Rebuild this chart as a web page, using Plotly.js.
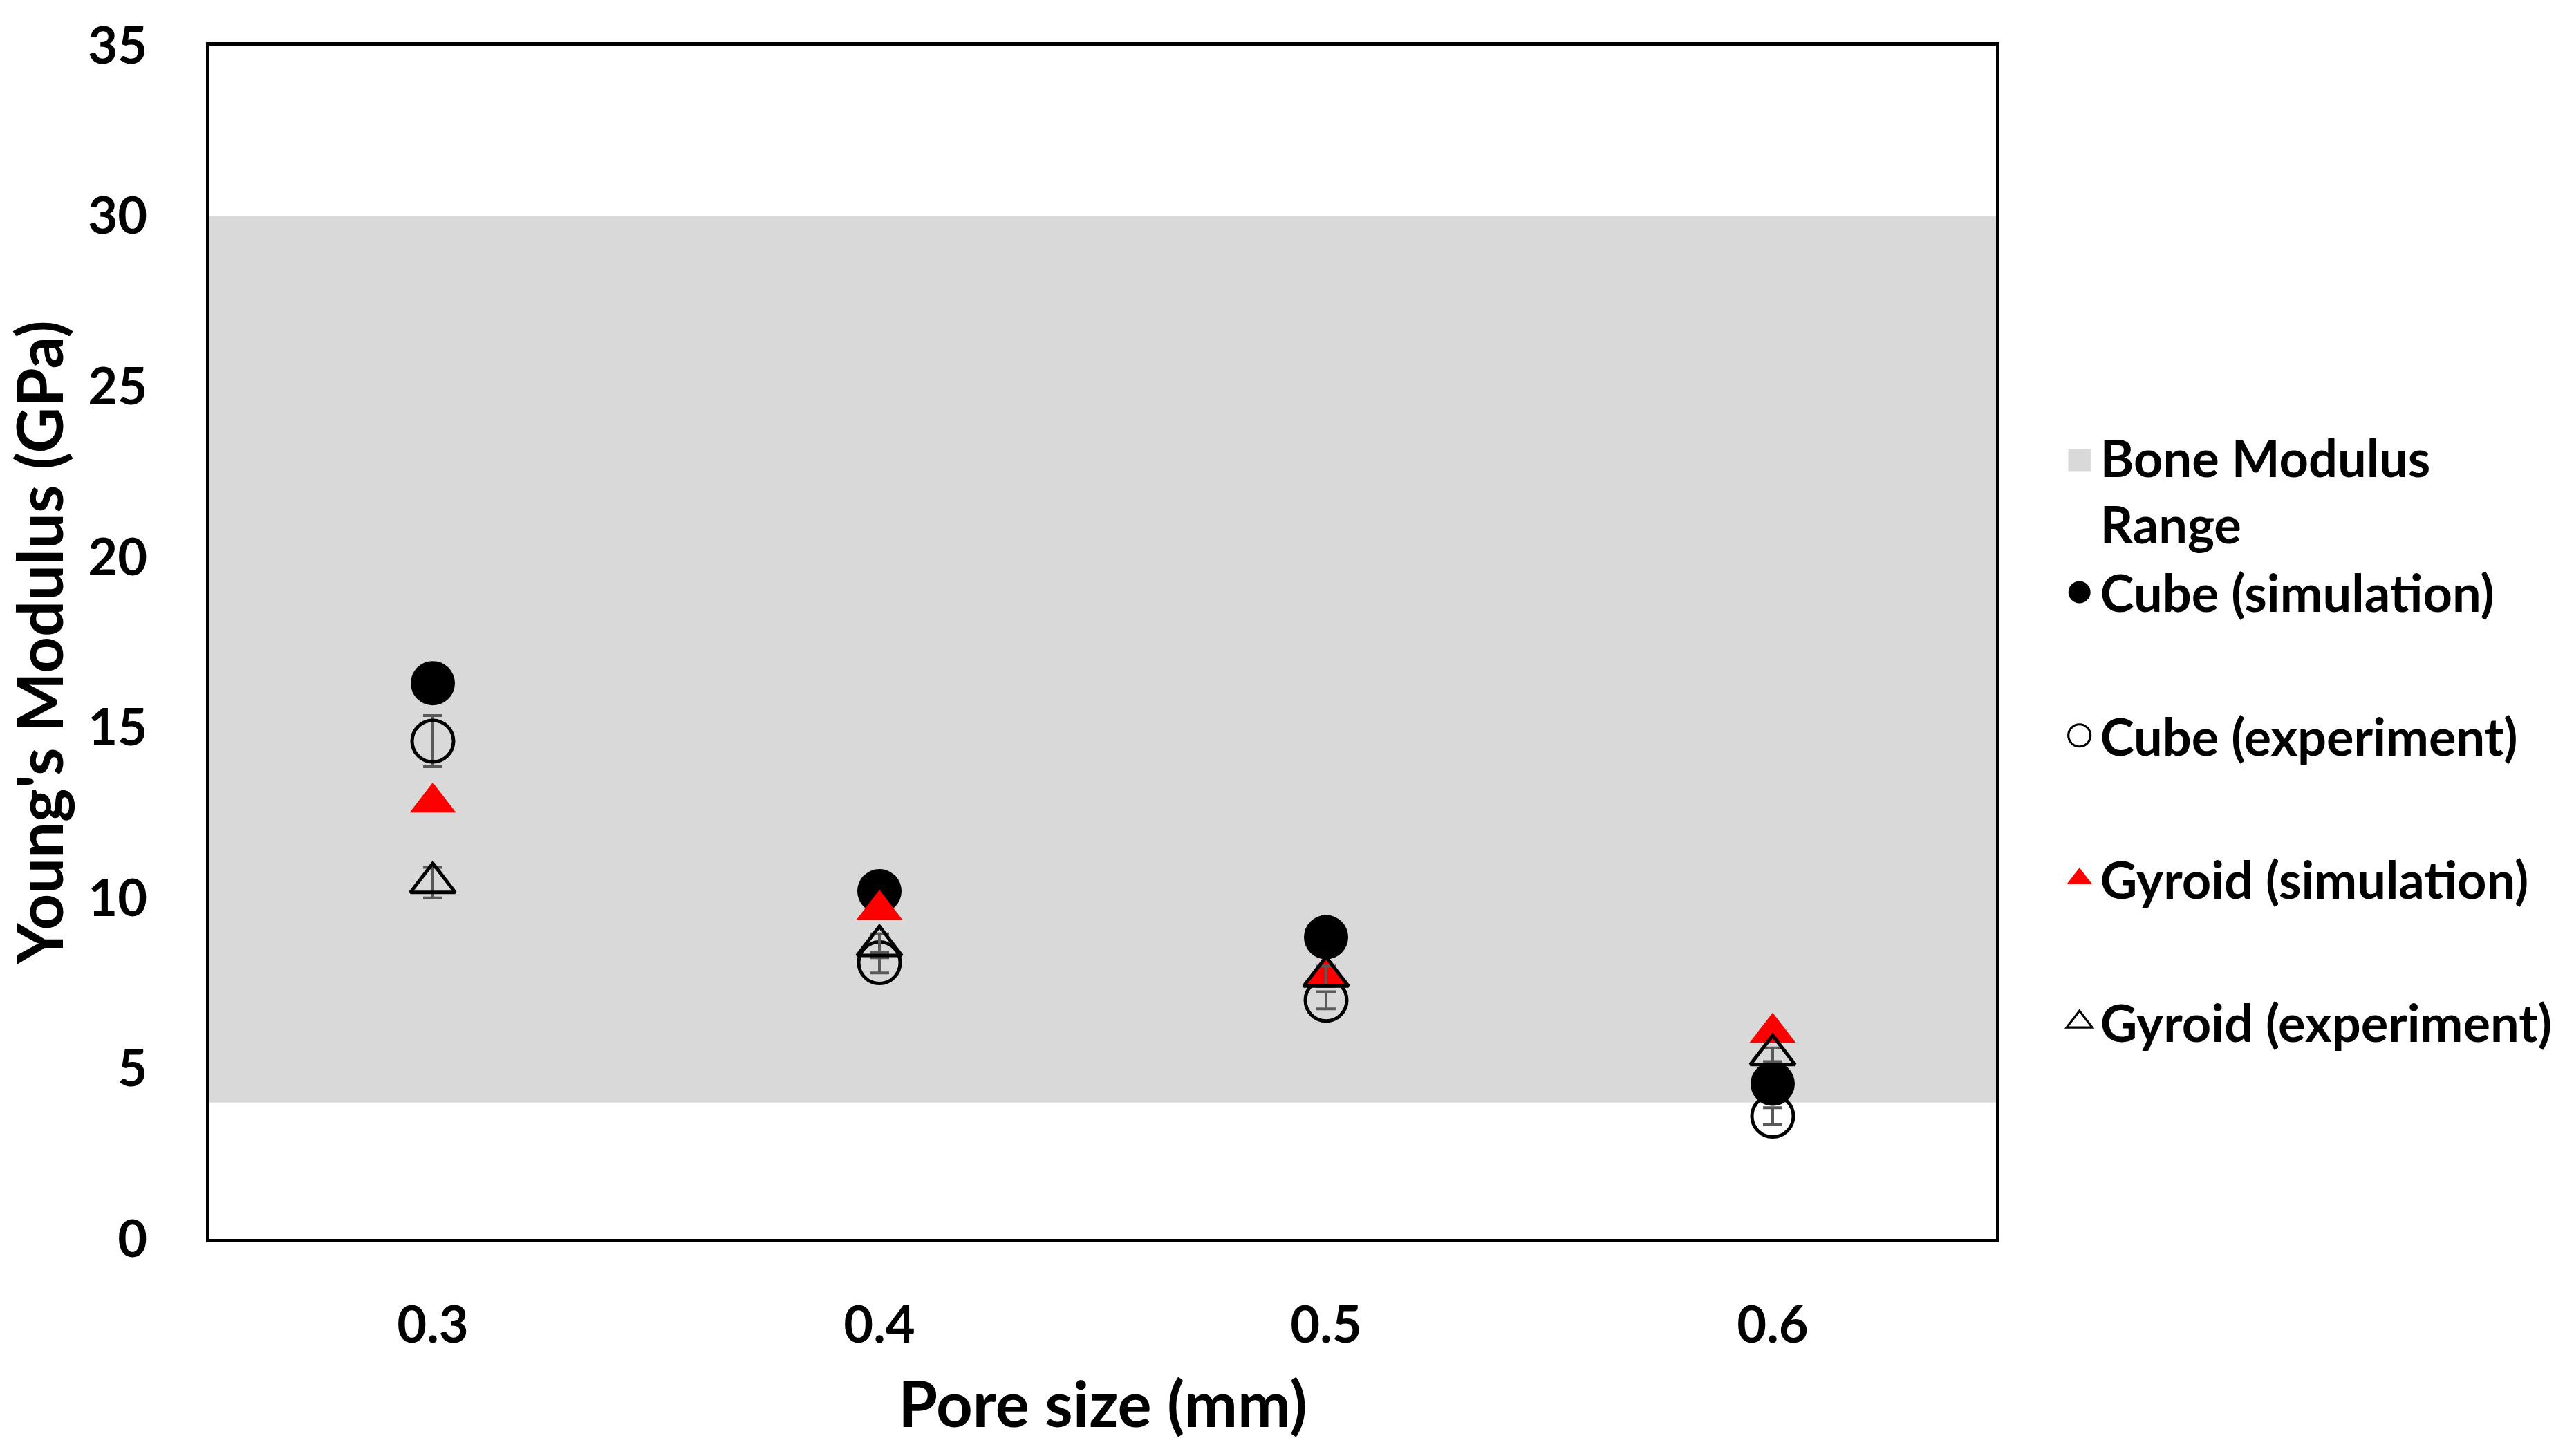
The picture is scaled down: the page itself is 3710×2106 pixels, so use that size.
<!DOCTYPE html>
<html>
<head>
<meta charset="utf-8">
<script src="https://cdn.plot.ly/plotly-3.0.1.min.js"></script>
<style>
  html, body { margin: 0; padding: 0; background: #fff; }
  #chart { width: 3710px; height: 2106px; }
</style>
</head>
<body>
<div id="chart"></div>
<script>
// pore sizes (mm)
const poreSize = [0.3, 0.4, 0.5, 0.6];
const poreLabels = ['0.3', '0.4', '0.5', '0.6'];

// Young's modulus (GPa)
const cubeSim = [16.3, 10.2, 8.85, 4.55];
const cubeExp = [14.6, 8.1, 7.0, 3.6];
const cubeExpErr = [0.75, 0.3, 0.25, 0.25];
const gyroidSim = [12.8, 9.65, 7.75, 6.05];
const gyroidExp = [10.45, 8.6, 7.7, 5.4];
const gyroidExpErr = [0.45, 0.35, 0.3, 0.2];

// bone modulus band (GPa) and x extent of the plot
const boneRange = [4, 30];
const xRange = [0.25, 0.65];
const yTicks = [0, 5, 10, 15, 20, 25, 30, 35];

const font = 'Lato, "Open Sans", sans-serif';
const errStyle = { type: 'data', visible: true, color: '#595959', thickness: 4, width: 14 };

// grey band as one wide bar so it gets a square legend key
let band = {
    type: 'bar',
    x: [(xRange[0] + xRange[1]) / 2],
    y: [boneRange[1] - boneRange[0]],
    base: [boneRange[0]],
    width: [xRange[1] - xRange[0]],
    marker: { color: '#d9d9d9', line: { width: 0 } },
    name: 'Bone Modulus<br>Range',
    legendgroup: 'g1',
    hoverinfo: 'skip'
};

let traces = [
    band,
    {
        x: poreSize, y: cubeSim, mode: 'markers', type: 'scatter',
        name: 'Cube (simulation)', legendgroup: 'g1',
        marker: { symbol: 'circle', size: 64, color: '#000000' }
    },
    {
        x: poreSize, y: cubeExp, mode: 'markers', type: 'scatter',
        name: 'Cube (experiment)', legendgroup: 'g2',
        error_y: Object.assign({ array: cubeExpErr }, errStyle),
        marker: { symbol: 'circle-open', size: 60, color: '#000000', line: { width: 5, color: '#000000' } }
    },
    {
        x: poreSize, y: gyroidSim, mode: 'markers', type: 'scatter',
        name: 'Gyroid (simulation)', legendgroup: 'g3',
        marker: { symbol: 'triangle-up', size: 58, color: '#ff0000' }
    },
    {
        x: poreSize, y: gyroidExp, mode: 'markers', type: 'scatter',
        name: 'Gyroid (experiment)', legendgroup: 'g4',
        error_y: Object.assign({ array: gyroidExpErr }, errStyle),
        marker: { symbol: 'triangle-up-open', size: 56, color: '#000000', line: { width: 5, color: '#000000' } }
    }
];

let layout = {
    width: 3710,
    height: 2106,
    autosize: false,
    margin: { l: 303, r: 823, t: 66, b: 314, pad: 0 },
    paper_bgcolor: '#ffffff',
    plot_bgcolor: '#ffffff',
    font: { family: font, size: 72, color: '#000000', weight: 'bold' },
    showlegend: true,
    legend: {
        xref: 'container', yref: 'container',
        x: 0.808, y: 0.712, xanchor: 'left', yanchor: 'top',
        traceorder: 'grouped',
        tracegroupgap: 108,
        font: { family: font, size: 74, weight: 'bold' },
        bgcolor: 'rgba(0,0,0,0)'
    },
    xaxis: {
        range: xRange,
        tickvals: poreSize,
        ticktext: poreLabels,
        showgrid: false,
        zeroline: false,
        ticks: '',
        ticklabelstandoff: 56,
        showline: true, mirror: true, linewidth: 5, linecolor: '#000000',
        tickfont: { family: font, size: 74, weight: 'bold' },
        title: { text: 'Pore size (mm)', standoff: 44, font: { family: font, size: 92, weight: 'bold' } }
    },
    yaxis: {
        range: [0, 35],
        tickvals: yTicks,
        showgrid: false,
        zeroline: false,
        ticks: '',
        ticklabelstandoff: 70,
        showline: true, mirror: true, linewidth: 5, linecolor: '#000000',
        tickfont: { family: font, size: 74, weight: 'bold' },
        title: { text: "Young's Modulus (GPa)", standoff: 30, font: { family: font, size: 92, weight: 'bold' } }
    }
};

Plotly.newPlot('chart', traces, layout, { displayModeBar: false, staticPlot: true }).then(function(gd) {
    // let enlarged legend keys spill past the legend box
    gd.querySelectorAll('.legend .scrollbox, .legend').forEach(function(el) {
        el.removeAttribute('clip-path');
    });
    // legend keys are capped small by plotly, enlarge them to match the figure
    gd.querySelectorAll('.legend g.legendpoints path').forEach(function(el) {
        let t = el.getAttribute('transform') || '';
        if (el.classList.contains('scatterpts')) {
            el.setAttribute('transform', t + ' translate(-10,0) scale(2)');
            if (el.style.strokeWidth && parseFloat(el.style.strokeWidth) > 0) {
                el.style.strokeWidth = '1.6px';
            }
        } else {
            // band key sits on the first text line, as in the figure
            el.setAttribute('transform', t + ' translate(-10,-44) scale(2.7)');
        }
    });
});
</script>
</body>
</html>
